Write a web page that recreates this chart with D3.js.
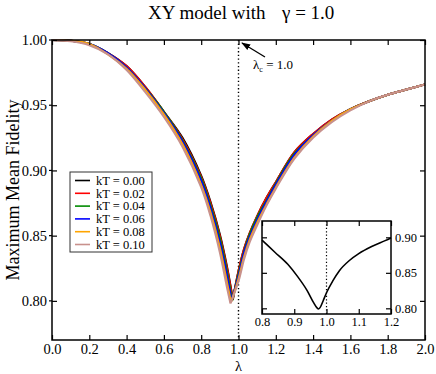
<!DOCTYPE html>
<html lang="en">
<head>
<title>XY model fidelity</title>
<meta charset="utf-8">
<script src="https://cdn.jsdelivr.net/npm/d3@7"></script>
<style type="text/css">
body {
	margin: 0;
	background: #fff;
}
svg text {
	font-family: 'Liberation Serif', 'Times New Roman', 'DejaVu Serif', serif;
	fill: #000;
}
</style>
</head>
<body>

<div id="vis"></div>

<script>

/* Data */
/* ==== */

var lambdaGrid = [0, 0.1, 0.2, 0.3, 0.4, 0.5, 0.6, 0.7, 0.8, 0.85, 0.9, 0.94,
	1.0, 1.03, 1.06, 1.1, 1.15, 1.2, 1.3, 1.4, 1.5, 1.6, 1.7, 1.8, 1.9, 2.0];

var kT000 = [1.000, 0.9995, 0.997, 0.990, 0.980, 0.964, 0.945, 0.925, 0.896, 0.876, 0.851, 0.825,
	0.823, 0.840, 0.852, 0.865, 0.879, 0.891, 0.914, 0.928, 0.939, 0.947, 0.953, 0.958, 0.962, 0.966];
var kT002 = [1.000, 0.9995, 0.997, 0.990, 0.980, 0.964, 0.945, 0.924, 0.895, 0.875, 0.850, 0.824,
	0.823, 0.840, 0.852, 0.865, 0.879, 0.891, 0.914, 0.928, 0.939, 0.947, 0.953, 0.958, 0.962, 0.966];
var kT004 = [1.000, 0.9995, 0.997, 0.990, 0.979, 0.963, 0.945, 0.923, 0.894, 0.873, 0.848, 0.821,
	0.821, 0.838, 0.851, 0.864, 0.877, 0.890, 0.913, 0.927, 0.938, 0.947, 0.953, 0.958, 0.962, 0.966];
var kT006 = [1.000, 0.9995, 0.997, 0.990, 0.979, 0.963, 0.944, 0.922, 0.892, 0.871, 0.845, 0.818,
	0.819, 0.837, 0.849, 0.862, 0.876, 0.889, 0.912, 0.927, 0.938, 0.947, 0.953, 0.958, 0.962, 0.966];
var kT008 = [1.000, 0.9995, 0.997, 0.989, 0.978, 0.962, 0.943, 0.920, 0.889, 0.868, 0.841, 0.813,
	0.817, 0.834, 0.847, 0.860, 0.874, 0.887, 0.910, 0.926, 0.938, 0.947, 0.953, 0.958, 0.962, 0.966];
var kT010 = [1.000, 0.999, 0.996, 0.989, 0.977, 0.960, 0.941, 0.918, 0.887, 0.865, 0.837, 0.809,
	0.815, 0.832, 0.845, 0.858, 0.873, 0.886, 0.909, 0.925, 0.937, 0.946, 0.953, 0.958, 0.962, 0.966];

// cusp (minimum) of each curve
var minLambda = [0.970, 0.969, 0.966, 0.963, 0.960, 0.957];
var minValue = [0.801, 0.801, 0.800, 0.800, 0.799, 0.798];

var seriesLabels = ['kT = 0.00', 'kT = 0.02', 'kT = 0.04', 'kT = 0.06', 'kT = 0.08', 'kT = 0.10'];
var seriesColors = ['#000000', '#ff0000', '#008b00', '#0000ff', '#ffa500', '#c8918c'];

// inset: kT = 0 close to the critical point
var insetLambda = [0.80, 0.84, 0.88, 0.91, 0.94, 0.96, 0.97, 0.975, 0.98, 0.99,
	1.00, 1.02, 1.04, 1.07, 1.10, 1.14, 1.18, 1.20];
var insetValue = [0.896, 0.879, 0.862, 0.845, 0.825, 0.808, 0.801, 0.799, 0.801, 0.811,
	0.822, 0.839, 0.853, 0.867, 0.877, 0.887, 0.895, 0.899];

var xTicks = [0, 0.2, 0.4, 0.6, 0.8, 1.0, 1.2, 1.4, 1.6, 1.8, 2.0];
var yTicks = [0.80, 0.85, 0.90, 0.95, 1.00];
var insetXTicks = [0.8, 0.9, 1.0, 1.1, 1.2];
var insetYTicks = [0.80, 0.85, 0.90];


/* SVG and scales */
/* ============== */

var width = 436, height = 374;
var serif = "'Liberation Serif', 'Times New Roman', 'DejaVu Serif', serif";

var svg = d3.select('#vis')
	.append('svg')
		.attr('width', width)
		.attr('height', height)
		.attr('font-family', serif);

var x = d3.scaleLinear().domain([0, 2]).range([52, 425]);
var y = d3.scaleLinear().domain([0.77, 1.0]).range([340, 40]);

var xi = d3.scaleLinear().domain([0.8, 1.2]).range([262, 391]);
var yi = d3.scaleLinear().domain([0.792, 0.923]).range([314, 221]);


/* Functions */
/* ========= */

function branches(values, i) {
	var left = [], right = [];
	lambdaGrid.forEach(function(l, j) {
		if (l < minLambda[i]) left.push([l, values[j]]);
		else right.push([l, values[j]]);
	});
	var tip = [minLambda[i], minValue[i]];
	left.push(tip);
	right.unshift(tip);
	return [left, right];
}

function drawAxes(g, sx, sy, xt, yt, opts) {
	var x0 = sx.range()[0], x1 = sx.range()[1];
	var y0 = sy.range()[0], y1 = sy.range()[1];

	g.append('g')
		.attr('transform', 'translate(0,' + y0 + ')')
		.call(d3.axisBottom(sx).tickValues(xt).tickSize(-5).tickPadding(opts.xpad)
			.tickFormat(d3.format('.1f')));
	g.append('g')
		.attr('transform', 'translate(0,' + y1 + ')')
		.call(d3.axisTop(sx).tickValues(xt).tickSize(-5).tickFormat(''));

	var yl = d3.axisLeft(sy).tickValues(yt).tickSize(-5).tickFormat(opts.leftLabels ? d3.format('.2f') : '')
		.tickPadding(opts.ypad);
	var yr = d3.axisRight(sy).tickValues(yt).tickSize(-5).tickFormat(opts.leftLabels ? '' : d3.format('.2f'))
		.tickPadding(opts.ypad);
	g.append('g').attr('transform', 'translate(' + x0 + ',0)').call(yl);
	g.append('g').attr('transform', 'translate(' + x1 + ',0)').call(yr);

	g.selectAll('.domain').remove();
	g.selectAll('g').attr('font-family', serif);
	g.selectAll('.tick line').attr('stroke', '#000').attr('stroke-width', 1.2);
	g.selectAll('.tick text')
		.attr('font-family', serif)
		.attr('font-size', opts.fs);

	g.append('rect')
		.attr('x', x0).attr('y', y1)
		.attr('width', x1 - x0).attr('height', y0 - y1)
		.attr('fill', 'none').attr('stroke', '#000').attr('stroke-width', 1.5);
}


/* Draw */
/* ==== */

var all = [kT000, kT002, kT004, kT006, kT008, kT010];

var line = d3.line()
	.x(function(d) { return x(d[0]); })
	.y(function(d) { return y(d[1]); })
	.curve(d3.curveCatmullRom.alpha(0.5));

// dotted line at the critical point
svg.append('line')
	.attr('x1', x(1)).attr('x2', x(1))
	.attr('y1', y(1)).attr('y2', y(0.77))
	.attr('stroke', '#000').attr('stroke-width', 1.4)
	.attr('stroke-dasharray', '1.3,2.4');

all.forEach(function(vals, i) {
	branches(vals, i).forEach(function(b) {
		svg.append('path')
			.datum(b)
			.attr('d', line)
			.attr('fill', 'none')
			.attr('stroke', seriesColors[i])
			.attr('stroke-width', 2)
			.attr('stroke-linejoin', 'round');
	});
});

var main = svg.append('g');
drawAxes(main, x, y, xTicks, yTicks, { xpad: 4, ypad: 5, fs: '14.5px', leftLabels: true });

// small outward stubs on the left axis
main.selectAll('.stub')
	.data(yTicks)
	.enter().append('line')
		.attr('x1', x(0) - 3).attr('x2', x(0))
		.attr('y1', function(d) { return y(d); })
		.attr('y2', function(d) { return y(d); })
		.attr('stroke', '#000').attr('stroke-width', 1.2);

// title and axis labels
var title = svg.append('text')
	.attr('y', 19)
	.attr('font-size', '19px');
title.append('tspan').attr('x', 148).text('XY model with');
title.append('tspan').attr('x', 282).text('\u03b3 = 1.0');

svg.append('text')
	.attr('transform', 'translate(19,190) rotate(-90)')
	.attr('text-anchor', 'middle')
	.attr('font-size', '18px')
	.text('Maximum Mean Fidelity');

svg.append('text')
	.attr('x', x(1)).attr('y', 370.5)
	.attr('text-anchor', 'middle')
	.attr('font-size', '14.5px')
	.text('\u03bb');

// critical point annotation
svg.append('defs').append('marker')
	.attr('id', 'head')
	.attr('viewBox', '0 0 10 10')
	.attr('refX', 9).attr('refY', 5)
	.attr('markerWidth', 7).attr('markerHeight', 7)
	.attr('orient', 'auto')
	.append('path')
		.attr('d', 'M0,1.5 L10,5 L0,8.5 Z')
		.attr('fill', '#000');

svg.append('line')
	.attr('x1', 265).attr('y1', 57)
	.attr('x2', 242).attr('y2', 43)
	.attr('stroke', '#000').attr('stroke-width', 1.3)
	.attr('marker-end', 'url(#head)');

var lc = svg.append('text')
	.attr('x', 253).attr('y', 69)
	.attr('font-size', '13px');
lc.append('tspan').text('\u03bb');
lc.append('tspan').attr('font-size', '8px').attr('dy', 3).text('c');
lc.append('tspan').attr('dy', -3).text(' = 1.0');

// legend
var legend = svg.append('g').attr('transform', 'translate(70,172)');
legend.append('rect')
	.attr('width', 82).attr('height', 80)
	.attr('fill', '#fff').attr('stroke', '#333').attr('stroke-width', 1);

var items = legend.selectAll('.item')
	.data(seriesLabels)
	.enter().append('g')
		.attr('transform', function(d, i) { return 'translate(0,' + (8.5 + i * 12.8) + ')'; });
items.append('line')
	.attr('x1', 5).attr('x2', 20)
	.attr('stroke', function(d, i) { return seriesColors[i]; })
	.attr('stroke-width', 1.6);
items.append('text')
	.attr('x', 26).attr('y', 4.3)
	.attr('font-size', '12.5px')
	.text(function(d) { return d; });

// inset
var inset = svg.append('g');
inset.append('rect')
	.attr('x', xi(0.8)).attr('y', yi(0.923))
	.attr('width', xi(1.2) - xi(0.8)).attr('height', yi(0.792) - yi(0.923))
	.attr('fill', '#fff');

inset.append('line')
	.attr('x1', xi(1)).attr('x2', xi(1))
	.attr('y1', yi(0.923)).attr('y2', yi(0.792))
	.attr('stroke', '#000').attr('stroke-width', 1.2)
	.attr('stroke-dasharray', '1.2,2.2');

inset.append('path')
	.datum(d3.zip(insetLambda, insetValue))
	.attr('d', d3.line()
		.x(function(d) { return xi(d[0]); })
		.y(function(d) { return yi(d[1]); })
		.curve(d3.curveMonotoneX))
	.attr('fill', 'none')
	.attr('stroke', '#000')
	.attr('stroke-width', 1.6);

drawAxes(inset, xi, yi, insetXTicks, insetYTicks, { xpad: 3, ypad: 4, fs: '12.5px', leftLabels: false });

</script>
</body>
</html>
